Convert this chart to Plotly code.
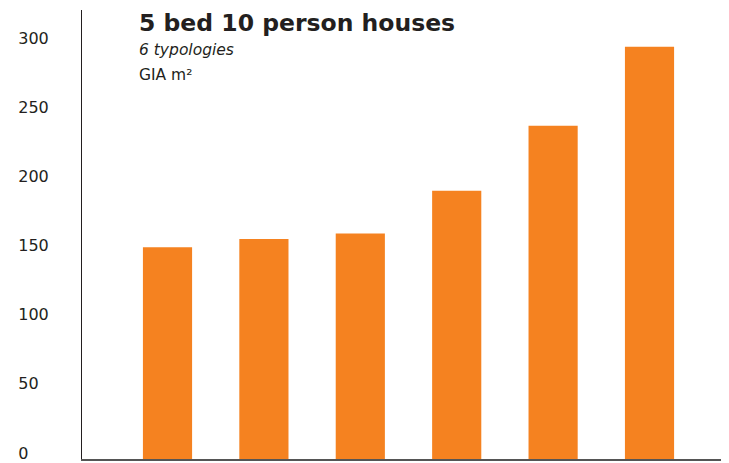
import plotly.graph_objects as go

typologies = [1, 2, 3, 4, 5, 6]
gia_m2 = [153, 159, 163, 194, 241, 298]
tick_vals = [0, 50, 100, 150, 200, 250, 300]
tick_labels = ["0", "50", "100", "150", "200", "250", "300"]

FS = "\u2007"  # figure space, pads labels so they look left-aligned
padded = [t + FS * (3 - len(t)) for t in tick_labels]

fig = go.Figure()
fig.add_trace(go.Bar(x=typologies, y=gia_m2, marker=dict(color="#F58220", line=dict(width=0)),
                     hoverinfo="y"))

# the page body adds an 8px margin, so the figure is 8px smaller and margins are reduced by 8
fig.update_layout(
    width=721, height=455,
    margin=dict(l=74, r=7, t=2, b=4, autoexpand=False),
    paper_bgcolor="white", plot_bgcolor="white",
    bargap=0.49,
    showlegend=False,
    font=dict(family="DejaVu Sans", color="#231F20"),
    xaxis=dict(range=[0.113, 6.752], showticklabels=False, ticks="", showgrid=False, zeroline=False,
               showline=True, linecolor="#555555", linewidth=1.6),
    yaxis=dict(range=[0, 324.6], tickvals=tick_vals, ticktext=padded, ticks="", showgrid=False,
               zeroline=False, showline=True, linecolor="#231F20", linewidth=1,
               tickfont=dict(size=16, color="#231F20", family="DejaVu Sans"),
               ticklabelshift=-6, ticklabelstandoff=29, automargin=False),
)

fig.add_annotation(text="<b>5 bed 10 person houses</b>", xref="paper", yref="paper",
                   x=(137 - 82) / 640, y=1 - (23 - 10) / 449, xanchor="left", yanchor="middle",
                   showarrow=False, font=dict(size=23.5, family="DejaVu Sans", color="#231F20"))
fig.add_annotation(text="<i>6 typologies</i>", xref="paper", yref="paper",
                   x=(137 - 82) / 640, y=1 - (50 - 10) / 449, xanchor="left", yanchor="middle",
                   showarrow=False, font=dict(size=15.5, family="DejaVu Sans", color="#231F20"))
fig.add_annotation(text="GIA m²", xref="paper", yref="paper",
                   x=(137 - 82) / 640, y=1 - (75 - 10) / 449, xanchor="left", yanchor="middle",
                   showarrow=False, font=dict(size=15.5, family="DejaVu Sans", color="#231F20"))

fig.write_html("out.html")
